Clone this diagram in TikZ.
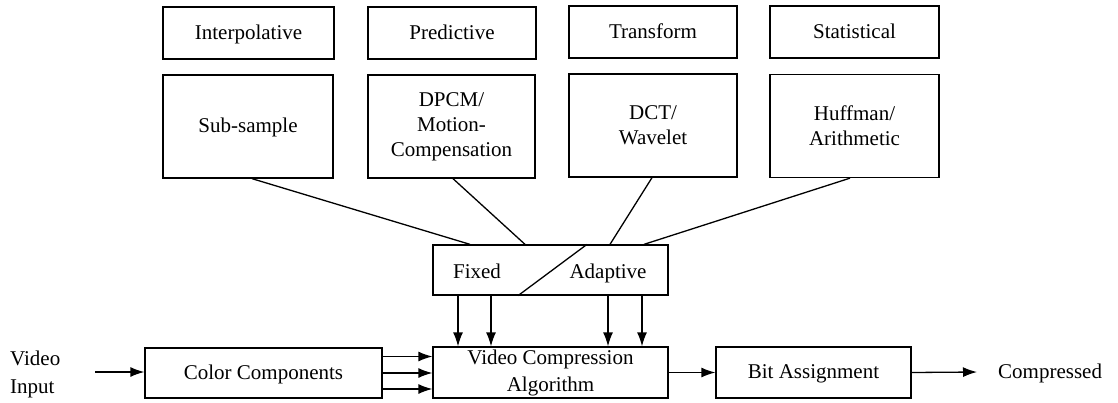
\documentclass[tikz,border=0pt]{standalone}
\usepackage{fontspec}
\setmainfont{Liberation Serif}
\usetikzlibrary{arrows.meta}
\begin{document}
\begin{tikzpicture}[x=1pt,y=-1pt,
  box/.style={draw,line width=1.3pt,inner sep=0pt,align=center,font=\fontsize{21}{25}\selectfont},
  one/.style={text height=16pt,text depth=4pt},
  lbl/.style={inner sep=0pt,font=\fontsize{21}{27}\selectfont},
  ln/.style={line width=1.3pt},
  arr/.style={line width=1.3pt,-{Latex[length=14pt,width=10pt]}}]
\useasboundingbox (0,0) rectangle (1118,402);
% top row
\node[box,one,minimum width=171pt,minimum height=52pt] (interp) at (248.5,33) {Interpolative};
\node[box,one,minimum width=168pt,minimum height=52pt] (pred) at (452,33) {Predictive};
\node[box,one,minimum width=168pt,minimum height=52pt] (trans) at (653,32) {Transform};
\node[box,one,minimum width=169pt,minimum height=52pt] (stat) at (854.5,32) {Statistical};
% second row
\node[box,one,minimum width=170pt,minimum height=103pt] (sub) at (248,126.5) {Sub-sample};
\node[box,minimum width=167pt,minimum height=103pt] (dpcm) at (451.5,126.5) {DPCM/\\Motion-\\Compensation};
\node[box,minimum width=168pt,minimum height=103pt] (dct) at (653,125.5) {DCT/\\Wavelet};
\node[box,minimum width=169pt,minimum height=103pt] (huff) at (854.5,126) {Huffman/\\Arithmetic};
% fixed / adaptive
\node[box,minimum width=235pt,minimum height=50pt] (fa) at (550.5,270) {};
\node[lbl,one] (fixed) at (477,272) {Fixed};
\node[lbl,one] (adapt) at (608,272) {Adaptive};
\draw[ln] ([xshift=-32.5pt]fa.south) -- ([xshift=36.5pt]fa.north);
% connectors to fa
\draw[ln] ([xshift=4pt]sub.south) -- ([xshift=-80.5pt]fa.north);
\draw[ln] ([xshift=1.5pt]dpcm.south) -- ([xshift=-25.5pt]fa.north);
\draw[ln] ([xshift=-1pt]dct.south) -- ([xshift=59.5pt]fa.north);
\draw[ln] ([xshift=-4.5pt]huff.south) -- ([xshift=93.5pt]fa.north);
% bottom row
\node[box,minimum width=235pt,minimum height=51pt,font=\fontsize{21}{27}\selectfont] (vca) at (550.5,372.5) {Video Compression\\Algorithm};
\node[box,one,minimum width=237pt,minimum height=50pt] (cc) at (263.5,373) {Color Components};
\node[box,one,minimum width=195pt,minimum height=51pt] (bit) at (813.5,372.5) {Bit Assignment};
\node[lbl,anchor=west,align=left,font=\fontsize{21}{28}\selectfont] (vin) at (10,374) {Video\\Input};
\node[lbl,one,anchor=west] (comp) at (998,372) {Compressed};
\coordinate (vinend) at (95,372);
\coordinate (coutend) at (977,372);
% arrows down
\foreach \dx in {-92.5,-59.5,57.5,91.5}
  \draw[arr] ([xshift=\dx pt]fa.south) -- ([xshift=\dx pt]fa.south |- vca.north);
% horizontal arrows
\draw[arr] (vinend) -- (vinend -| cc.west);
\foreach \dy in {16.5,0,-16}
  \draw[arr] ([yshift=\dy pt]cc.east) -- ([yshift=\dy pt]cc.east -| vca.west);
\draw[arr] (vca.east) -- (bit.west);
\draw[arr] (bit.east) -- (coutend);
\end{tikzpicture}
\end{document}
